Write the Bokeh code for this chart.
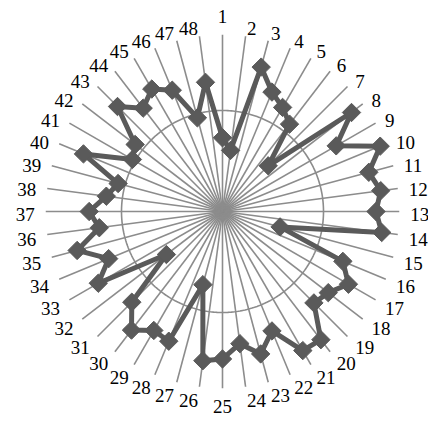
import numpy as np
from bokeh.plotting import figure
from bokeh.models import ColumnDataSource
from bokeh.core.properties import value
from bokeh.embed import file_html
from bokeh.resources import INLINE

# Category labels (spokes) and series values (grid ring = 1.0, axis max = 1.75)
categories = [str(i) for i in range(1, 49)]
values = [0.73, 0.61, 1.48, 1.28, 1.19, 1.09, 0.64, 1.61, 1.30, 1.69, 1.50, 1.58,
          1.52, 1.59, 0.59, 1.29, 1.44, 1.32, 1.28, 1.60, 1.59, 1.28, 1.46, 1.32,
          1.46, 1.49, 0.75, 1.39, 1.36, 1.48, 1.27, 0.70, 1.42, 1.22, 1.49, 1.23,
          1.32, 1.16, 1.07, 1.49, 1.03, 1.09, 1.47, 1.29, 1.40, 1.30, 0.96, 1.29]
grid_levels = [1.0]
axis_max = 1.75

W, H = 428, 423
CX, CY = 222, 211          # centre in figure pixels (from left, from top)
UNIT = 101.0               # pixels per value unit

p = figure(width=W, height=H, output_backend="svg", toolbar_location=None,
           x_range=(-CX, W - CX), y_range=(-(H - CY), CY),
           min_border=0, outline_line_color=None)
p.axis.visible = False
p.grid.visible = False
p.background_fill_color = "white"
p.border_fill_color = "white"

n = len(categories)
ang = np.pi / 2 - 2 * np.pi * np.arange(n) / n
cs, sn = np.cos(ang), np.sin(ang)

# spokes
R = axis_max * UNIT
p.segment(x0=np.zeros(n), y0=np.zeros(n), x1=R * cs, y1=R * sn,
          line_color="#8c8c8c", line_width=1.6)

# grid ring(s)
t = np.linspace(0, 2 * np.pi, 361)
for g in grid_levels:
    p.line(g * UNIT * np.cos(t), g * UNIT * np.sin(t), line_color="#8c8c8c", line_width=1.6)

# series
v = np.array(values) * UNIT
xs = v * cs
ys = v * sn
p.line(np.append(xs, xs[0]), np.append(ys, ys[0]), line_color="#5a5a5a", line_width=5,
       line_join="round")
p.scatter(xs, ys, marker="square", size=13, angle=np.pi / 4,
          fill_color="#5a5a5a", line_color="#5a5a5a")

# category labels: anchored just outside the spoke ends
GAP = 11
ax = (R + GAP) * cs
ay = (R + GAP) * sn
groups = {"left": ([], [], []), "right": ([], [], []), "center": ([], [], [])}
for i in range(n):
    if abs(cs[i]) < 1e-6:
        key = "center"
        y = ay[i] + (7.5 if sn[i] > 0 else -7.0)
    else:
        key = "left" if cs[i] > 0 else "right"
        y = ay[i] - 3
    groups[key][0].append(ax[i])
    groups[key][1].append(y)
    groups[key][2].append(categories[i])
for key, (gx, gy, gt) in groups.items():
    src = ColumnDataSource(dict(x=gx, y=gy, t=gt))
    p.text(x="x", y="y", text="t", source=src, text_align=key, text_baseline="middle",
           text_font=value("Liberation Serif"), text_font_size="19px", text_color="black")

open("out.html", "w").write(file_html(p, INLINE))
